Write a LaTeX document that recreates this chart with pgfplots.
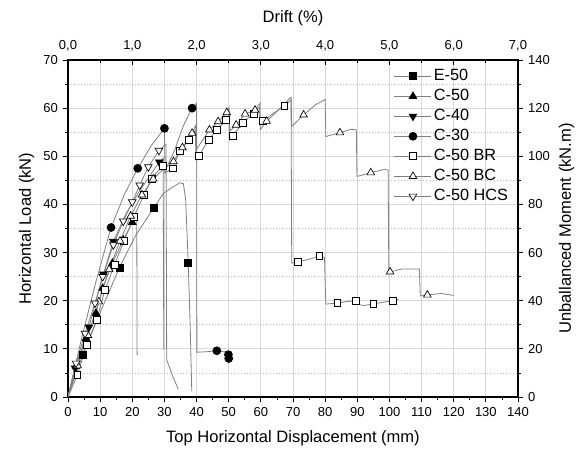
\documentclass[border=0pt]{standalone}
\usepackage{fontspec}
\setmainfont{Liberation Sans}
\usepackage{pgfplots}
\pgfplotsset{compat=1.18}
\begin{document}
\begin{tikzpicture}
\pgfplotsset{
  every axis/.append style={
    width=337.5pt, height=252.75pt, scale only axis,
    /pgf/number format/assume math mode=true,
    tick label style={font=\fontsize{9.75}{11}\selectfont},
    label style={font=\fontsize{12.4}{14}\selectfont},
    major tick length=4pt, minor tick length=2.3pt,
    tick style={black, line width=0.6pt},
    axis line style={line width=0.8pt},
  },
  ser/.style={gray, line width=0.6pt},
  filled/.style={ser, mark options={solid, draw=black, fill=black, line width=0.5pt}},
  open/.style={ser, mark options={solid, draw=black, fill=white, line width=0.5pt}},
  down/.style={every mark/.append style={rotate=180}},
}
\begin{axis}[name=main,
  xmin=0, xmax=140, ymin=0, ymax=70,
  xtick distance=10, ytick distance=10, minor x tick num=1, minor y tick num=1,
  xtick pos=bottom, ytick pos=left, tick align=outside,
  xmajorgrids, ymajorgrids, yminorgrids,
  major grid style={gray!30, line width=0.6pt},
  minor grid style={gray!50, dotted, line width=0.6pt},
  xlabel={Top Horizontal Displacement (mm)},
  xlabel style={yshift=-4pt},
  ylabel={Horizontal Load (kN)},
  legend cell align=left,
  legend style={at={(rel axis cs:0.715,0.99)}, anchor=north west, draw=none, fill=none,
    font=\fontsize{12.2}{14}\selectfont, row sep=0pt,
    nodes={text height=9.5pt, text depth=2.5pt, inner sep=1.5pt}},
  legend image code/.code={\draw[mark repeat=2,mark phase=2] plot coordinates {(0pt,0pt) (13.9pt,0pt) (27.8pt,0pt)};},
]
% E-50
\addplot[filled, forget plot, mark=square*, mark size=2.6pt, mark indices={3,5,7,13}] coordinates {
(0,0) (2,4) (4.6,8.7) (10,17.5) (16,26.9) (21,33.5) (26.6,39.2) (29.7,42.3) (32.8,43.7)
(34.8,44.5) (35.9,44.3) (36.6,41) (37.4,27.9) (38,15) (38.5,1.2)};
% C-50
\addplot[filled, forget plot, mark=triangle*, mark size=3.3pt, mark indices={2,3,4,5,6,7,8}] coordinates {
(0,0) (2.5,6.4) (5.6,12.2) (8.7,17.4) (10.8,22.6) (13.8,27.8) (17.2,32.6) (20,36.3)
(21.4,37.2) (21.5,8.7)};
% C-40
\addplot[filled, down, forget plot, mark=triangle*, mark size=3.3pt, mark indices={2,3,4,5,9}] coordinates {
(0,0) (2.2,6) (6.5,14.5) (11,25.5) (14.1,32.3) (18,38) (22,42.5) (25.5,46) (28.4,48.8)
(29.6,49.6) (29.8,9.8)};
% C-30
\addplot[filled, forget plot, mark=*, mark size=3pt, mark indices={4,6,8,12,16,18,19}] coordinates {
(0,0) (4,11.5) (8.5,23.5) (13.4,35.2) (17.5,42) (21.7,47.5) (26,52.3) (30,55.8)
(30.2,47) (33,51) (36,56.5) (38.6,60) (40,61) (40.1,9.3) (43,9.4) (46.3,9.6) (49.5,9.3)
(49.9,8.8) (50,8.0)};
% C-50 BR
\addplot[open, forget plot, mark=square*, mark size=2.6pt,
  mark indices={2,3,4,5,6,7,8,9,10,11,14,15,16,19,20,21,22,25,26,27,30,32,35,37,40,42,45,47}] coordinates {
(0,0) (2.9,4.6) (5.8,10.8) (8.9,16) (11.5,22.2) (14.5,27.5) (17.5,32.5) (20.5,37.5)
(23.7,42) (26,45.4) (29.4,48) (30,48.6) (30.1,46.5) (32.5,47.5) (34.8,51.1) (37.7,53.4)
(39.6,55.5) (39.8,49.5) (40.8,50.1) (43.7,53.4) (46.3,55.5) (49.2,57.5) (50.2,58.7) (50.4,53.4)
(51.2,54.2) (54.5,57) (57.7,58.9) (59.6,60.2) (59.8,56.5) (60.7,57.3) (64,59) (67.3,60.4)
(69.4,61.7) (69.6,27.8) (71.5,28.1) (75,28.6) (78.2,29.3) (79.8,29.0) (80.2,19.3) (83.8,19.5)
(86.5,19.8) (89.5,20.0) (90,19.3) (92,19.0) (95,19.3) (98,19.7) (101,20) (102.8,20.3)};
% C-50 BC
\addplot[open, forget plot, mark=triangle*, mark size=3.3pt,
  mark indices={2,3,4,5,6,7,8,9,11,12,13,16,17,18,21,22,23,26,30,34,38,42,46}] coordinates {
(0,0) (3,6.5) (6.2,12.8) (9.6,19.8) (12.8,26.5) (16.2,32.4) (19.5,37.6) (23,42)
(26.5,45.3) (29.8,47.4) (32.8,48.9) (35.6,51.8) (38.6,54.8) (39.8,56.5) (40,51.5) (44,55.5)
(46.7,57.2) (49.4,59.1) (50.1,60.2) (50.3,55.2) (52.3,56.5) (55.1,58.8) (58.2,59.6) (59.7,61)
(59.8,55.5) (61.8,57.3) (65,59.3) (69.4,62.3) (69.6,56.2) (73.3,58.6) (77,60.7) (80,61.8)
(80.2,54.1) (84.6,54.9) (88,55.6) (89.7,55.5) (89.9,45.8) (94.2,46.6) (98.6,47.3) (99.6,47.1)
(99.8,26.0) (100.2,26.0) (104,26.6) (109.3,26.6) (109.6,21.0) (111.8,21.2) (116,21.5) (120,21.1)};
% C-50 HCS
\addplot[open, down, forget plot, mark=triangle*, mark size=3.3pt, mark indices={2,3,4,5,6,7,8,9,10,11}] coordinates {
(0,0) (2.5,7) (5.3,13.2) (8.4,19.5) (10.8,25) (14.1,31.6) (17.2,36.5) (20,40.5)
(22.3,44) (25,47.8) (28.3,51.2) (30.5,52.5) (30.7,7.7) (32.5,4.5) (34.3,1.6)};

\addlegendimage{filled, mark=square*, mark size=2.6pt}
\addlegendentry{E-50}
\addlegendimage{filled, mark=triangle*, mark size=3.3pt}
\addlegendentry{C-50}
\addlegendimage{filled, down, mark=triangle*, mark size=3.3pt}
\addlegendentry{C-40}
\addlegendimage{filled, mark=*, mark size=3pt}
\addlegendentry{C-30}
\addlegendimage{open, mark=square*, mark size=2.6pt}
\addlegendentry{C-50 BR}
\addlegendimage{open, mark=triangle*, mark size=3.3pt}
\addlegendentry{C-50 BC}
\addlegendimage{open, down, mark=triangle*, mark size=3.3pt}
\addlegendentry{C-50 HCS}
\end{axis}

% top axis: drift
\begin{axis}[at={(main.south west)}, anchor=south west,
  xmin=0, xmax=7, ymin=0, ymax=70,
  axis x line*=top, axis y line=none,
  xtick={0,...,7}, minor x tick num=1, tick align=inside,
  xticklabel style={yshift=3pt, /pgf/number format/.cd, fixed, fixed zerofill, precision=1, use comma},
  xlabel={Drift (\%)},
  xlabel style={yshift=4pt},
]
\end{axis}

% right axis: moment
\begin{axis}[at={(main.south west)}, anchor=south west,
  xmin=0, xmax=140, ymin=0, ymax=140,
  axis y line*=right, axis x line=none,
  ytick distance=20, minor y tick num=1, tick align=outside,
  ylabel={Unballanced Moment (kN.m)},
]
\end{axis}

\pgfresetboundingbox
\path ([shift={(-51pt,-41.25pt)}]main.south west) rectangle ([shift={(43.5pt,45pt)}]main.north east);
\end{tikzpicture}
\end{document}
